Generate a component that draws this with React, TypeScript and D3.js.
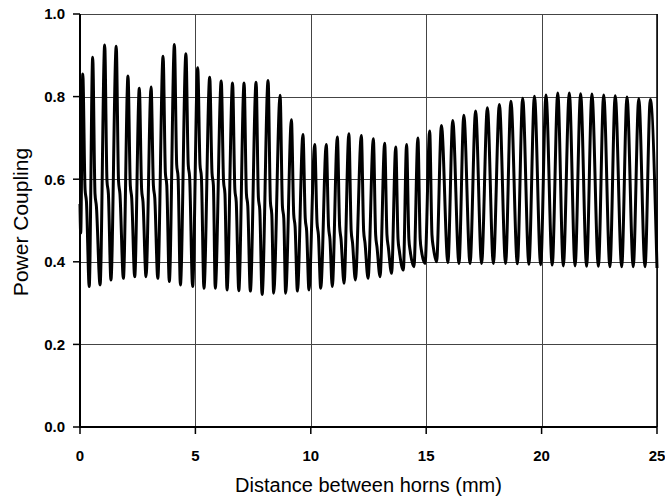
import React from 'react';
import * as d3 from 'd3';

const xTicks = [0, 5, 10, 15, 20, 25];
const yTicks = [0, 0.2, 0.4, 0.6, 0.8, 1.0];
const xTitle = 'Distance between horns (mm)';
const yTitle = 'Power Coupling';

const startPoints: [number, number][] = [[0, 0.54], [0.03, 0.47]];
const endPoints: [number, number][] = [[25.0, 0.385]];

const peaks: [number, number][] = [
  [0.12, 0.855], [0.55, 0.895], [1.07, 0.925], [1.57, 0.922], [2.08, 0.85], [2.57, 0.82], [3.08, 0.823],
  [3.6, 0.898], [4.09, 0.926], [4.59, 0.904], [5.1, 0.87], [5.62, 0.847], [6.12, 0.838], [6.61, 0.833],
  [7.11, 0.833], [7.63, 0.835], [8.15, 0.839], [8.67, 0.803], [9.16, 0.744], [9.66, 0.708], [10.17, 0.684],
  [10.67, 0.684], [11.15, 0.702], [11.65, 0.71], [12.19, 0.706], [12.71, 0.698], [13.2, 0.687], [13.68, 0.678],
  [14.15, 0.684], [14.64, 0.7], [15.15, 0.717], [15.66, 0.73], [16.15, 0.742], [16.63, 0.755], [17.14, 0.765],
  [17.65, 0.773], [18.17, 0.781], [18.67, 0.789], [19.18, 0.796], [19.69, 0.801], [20.19, 0.804], [20.7, 0.809],
  [21.2, 0.809], [21.69, 0.807], [22.18, 0.806], [22.69, 0.804], [23.19, 0.802], [23.7, 0.799], [24.21, 0.795],
  [24.71, 0.793],
];

const troughs: [number, number][] = [
  [0.4, 0.34], [0.87, 0.344], [1.34, 0.356], [1.88, 0.36], [2.37, 0.364], [2.86, 0.364], [3.37, 0.36],
  [3.87, 0.352], [4.35, 0.344], [4.88, 0.34], [5.37, 0.336], [5.86, 0.336], [6.37, 0.332], [6.88, 0.33],
  [7.38, 0.329], [7.89, 0.321], [8.39, 0.324], [8.91, 0.324], [9.42, 0.329], [9.92, 0.332], [10.43, 0.336],
  [10.93, 0.34], [11.44, 0.348], [11.93, 0.356], [12.48, 0.36], [13.0, 0.364], [13.5, 0.372], [14.01, 0.38],
  [14.47, 0.388], [14.95, 0.396], [15.45, 0.4], [15.94, 0.398], [16.42, 0.396], [16.9, 0.396], [17.4, 0.396],
  [17.91, 0.396], [18.44, 0.396], [18.95, 0.395], [19.45, 0.394], [19.96, 0.393], [20.46, 0.392], [20.94, 0.39],
  [21.45, 0.39], [21.95, 0.389], [22.46, 0.389], [22.96, 0.388], [23.47, 0.388], [23.97, 0.388], [24.48, 0.388],
];

const shoulders: [number, number][] = [
  [0.22, 0.575], [0.28, 0.545], [0.65, 0.565], [0.71, 0.535], [1.17, 0.595], [1.23, 0.565],
  [1.67, 0.595], [1.73, 0.565], [2.18, 0.585], [2.24, 0.555], [2.67, 0.575], [2.73, 0.545],
  [3.18, 0.585], [3.24, 0.555], [3.7, 0.615], [3.76, 0.585], [4.19, 0.635], [4.25, 0.605],
  [4.69, 0.635], [4.75, 0.605], [5.2, 0.635], [5.26, 0.605], [5.72, 0.615], [5.78, 0.585],
  [6.22, 0.595], [6.28, 0.565], [6.71, 0.575], [6.77, 0.545], [7.21, 0.565], [7.27, 0.535],
  [7.73, 0.555], [7.79, 0.525], [8.25, 0.545], [8.31, 0.515], [8.77, 0.535], [8.83, 0.505],
  [9.26, 0.515], [9.32, 0.485], [9.76, 0.505], [9.82, 0.475], [10.27, 0.495], [10.33, 0.465],
  [10.77, 0.485], [10.83, 0.455], [11.25, 0.485], [11.31, 0.455], [11.75, 0.475], [11.81, 0.445],
  [12.29, 0.475], [12.35, 0.445], [12.81, 0.465], [12.87, 0.435], [13.3, 0.465], [13.36, 0.435],
  [13.78, 0.455], [13.84, 0.425], [14.25, 0.455], [14.31, 0.425], [14.74, 0.455], [14.8, 0.425],
  [15.25, 0.465], [15.31, 0.435],
];

const W = 665;
const H = 497;
const left = 80;
const right = 657;
const top = 14;
const bottom = 427;

export default function App() {
  const x = d3.scaleLinear().domain([0, 25]).range([left, right]);
  const y = d3.scaleLinear().domain([0, 1]).range([bottom, top]);
  const pts = [...startPoints, ...peaks, ...troughs, ...shoulders, ...endPoints].sort((a, b) => a[0] - b[0]);
  const line = d3
    .line<[number, number]>()
    .x((d) => x(d[0]))
    .y((d) => y(d[1]))
    .curve(d3.curveMonotoneX);
  const fmtY = d3.format('.1f');
  const font = 'Liberation Sans, Arial, sans-serif';

  return (
    <svg width={W} height={H} style={{ position: 'absolute', left: 0, top: 0, background: '#fff' }}>
      <rect x={0} y={0} width={W} height={H} fill="#fff" />
      {yTicks.filter((t) => t > 0).map((t) => (
        <line key={'gy' + t} x1={left} x2={right} y1={Math.round(y(t)) + 0.5} y2={Math.round(y(t)) + 0.5} stroke="#444" strokeWidth={1} />
      ))}
      {xTicks.filter((t) => t > 0).map((t) => (
        <line key={'gx' + t} x1={Math.round(x(t)) + 0.5} x2={Math.round(x(t)) + 0.5} y1={top} y2={bottom} stroke="#444" strokeWidth={1} />
      ))}
      <line x1={right} x2={right} y1={top} y2={bottom} stroke="#000" strokeWidth={1.5} />
      <path d={line(pts) || ''} fill="none" stroke="#000" strokeWidth={3} strokeLinejoin="round" />
      <line x1={left} x2={left} y1={top} y2={bottom + 1} stroke="#000" strokeWidth={2} />
      <line x1={left - 1} x2={right} y1={bottom} y2={bottom} stroke="#000" strokeWidth={2} />
      {yTicks.map((t) => (
        <g key={'ty' + t}>
          <line x1={left - 7} x2={left} y1={y(t)} y2={y(t)} stroke="#000" strokeWidth={1.5} />
          <text x={65} y={y(t)} dy="0.36em" textAnchor="end" fontFamily={font} fontWeight="bold" fontSize={15} fill="#000">
            {fmtY(t)}
          </text>
        </g>
      ))}
      {xTicks.map((t) => (
        <g key={'tx' + t}>
          <line x1={x(t)} x2={x(t)} y1={bottom} y2={bottom + 7} stroke="#000" strokeWidth={1.5} />
          <text x={x(t)} y={461} textAnchor="middle" fontFamily={font} fontWeight="bold" fontSize={15} fill="#000">
            {String(t)}
          </text>
        </g>
      ))}
      <text x={(left + right) / 2} y={492} textAnchor="middle" fontFamily={font} fontSize={20} fill="#000">
        {xTitle}
      </text>
      <text transform={`translate(28, ${222}) rotate(-90)`} textAnchor="middle" fontFamily={font} fontSize={21} fill="#000">
        {yTitle}
      </text>
    </svg>
  );
}
